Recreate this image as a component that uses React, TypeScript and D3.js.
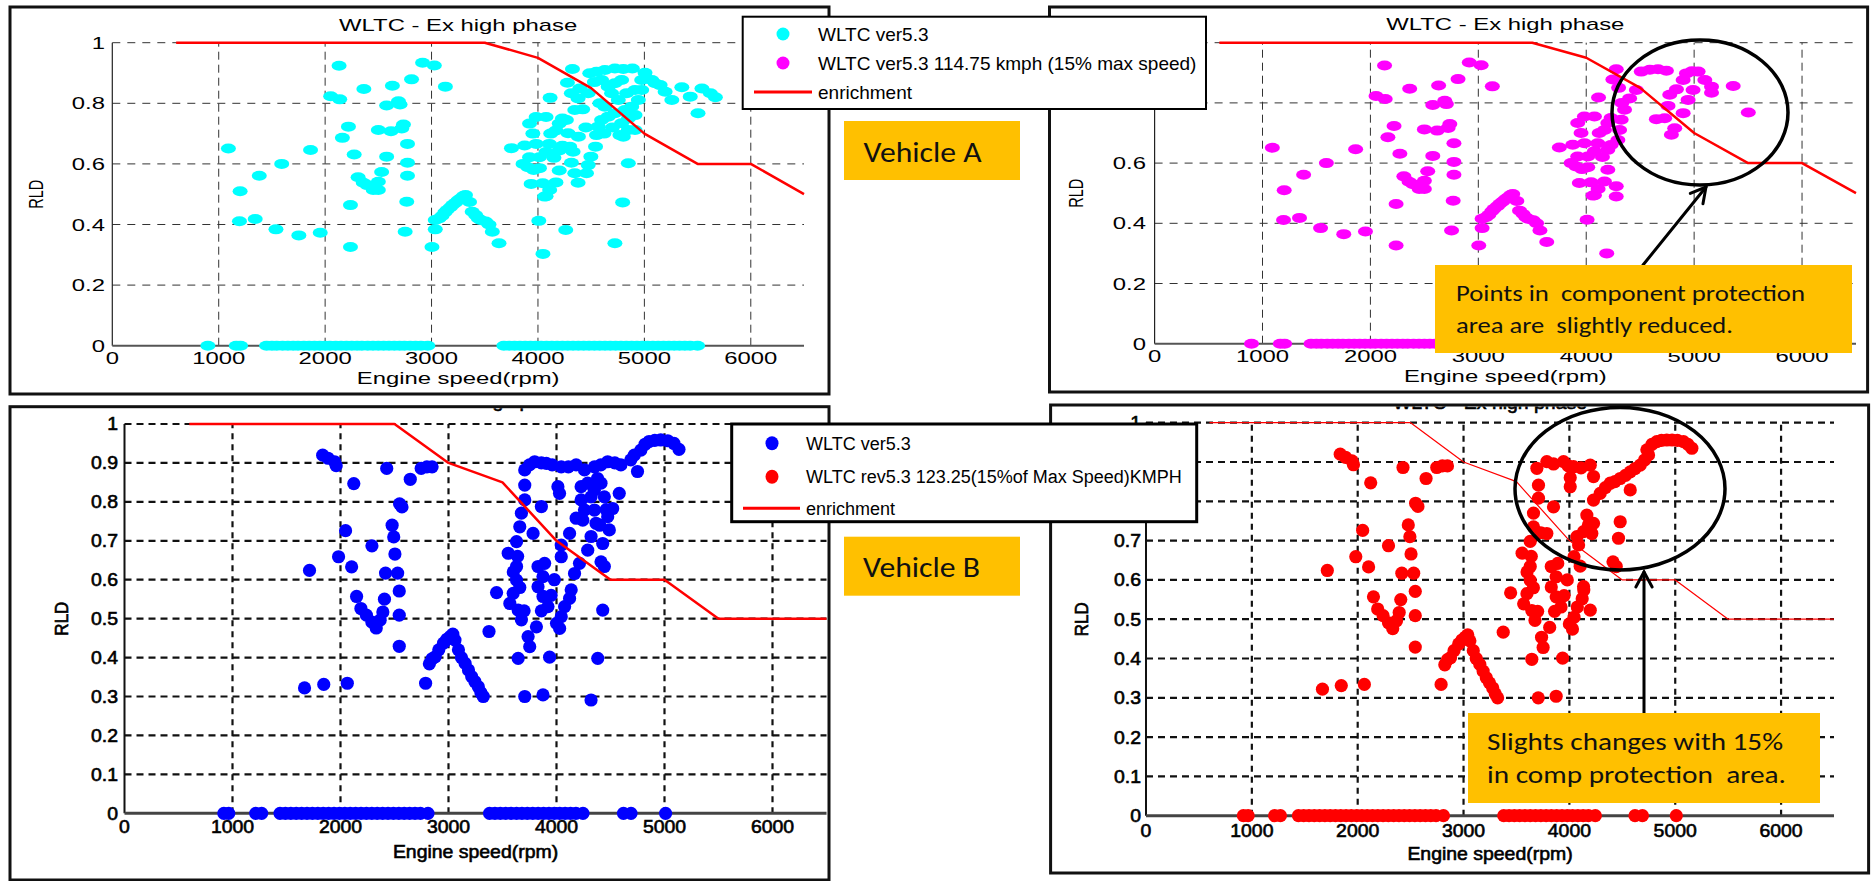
import React from 'react';
import * as d3 from 'd3';

type Pt = [number, number];

// ---- axis ticks / labels ----
const rpmTicks = [0, 1000, 2000, 3000, 4000, 5000, 6000];
const rldTicksA = [0, 0.2, 0.4, 0.6, 0.8, 1];
const rldTicksB = [0, 0.1, 0.2, 0.3, 0.4, 0.5, 0.6, 0.7, 0.8, 0.9, 1];
const titleText = 'WLTC - Ex high phase';
const xAxisLabel = 'Engine speed(rpm)';
const yAxisLabel = 'RLD';

const legendLabelsA = ['WLTC ver5.3', 'WLTC ver5.3 114.75 kmph (15% max speed)', 'enrichment'];
const legendLabelsB = ['WLTC ver5.3', 'WLTC rev5.3 123.25(15%of Max Speed)KMPH', 'enrichment'];
const noteA = ['Points in  component protection', 'area are  slightly reduced.'];
const noteB = ['Slights changes with 15%', 'in comp protection  area.'];

// ---- enrichment curves ----
const enrichRpmA = [600, 3500, 4000, 4500, 5000, 5500, 6000, 6500];
const enrichRldA = [1, 1, 0.95, 0.85, 0.7, 0.6, 0.6, 0.5];
const enrichRpmB = [600, 2500, 3000, 3500, 4000, 4500, 5000, 5500, 6500];
const enrichRldB = [1, 1, 0.9, 0.85, 0.7, 0.6, 0.6, 0.5, 0.5];

// ---- vehicle A : points shared by both runs ----
const vehicleACommon: Pt[] = [
  [1091, 0.651], [1201, 0.51], [1195, 0.411], [1343, 0.418], [1381, 0.561], [1538, 0.384], [1592, 0.6],
  [1753, 0.364], [1863, 0.646], [1954, 0.373], [2131, 0.924], [2052, 0.823], [2137, 0.813], [2364, 0.847],
  [2162, 0.686], [2219, 0.723], [2273, 0.631], [2310, 0.556], [2358, 0.538], [2395, 0.53], [2452, 0.514],
  [2500, 0.514], [2500, 0.541], [2531, 0.573], [2238, 0.464], [2238, 0.326], [2500, 0.712], [2578, 0.793],
  [2632, 0.858], [2619, 0.708], [2578, 0.624], [2689, 0.807], [2704, 0.796], [2736, 0.73], [2720, 0.717],
  [2774, 0.666], [2774, 0.604], [2774, 0.561], [2767, 0.475], [2752, 0.376], [2812, 0.879], [2916, 0.934],
  [3026, 0.925], [3130, 0.855], [3004, 0.326], [3035, 0.384],
  [3035, 0.415], [3070, 0.42], [3098, 0.428], [3125, 0.44], [3146, 0.448], [3177, 0.457], [3200, 0.465],
  [3225, 0.472], [3250, 0.48], [3272, 0.486], [3300, 0.494], [3319, 0.497], [3357, 0.474], [3382, 0.442],
  [3414, 0.431], [3440, 0.42], [3461, 0.415], [3508, 0.41], [3540, 0.4], [3571, 0.376], [3634, 0.338],
  [3751, 0.652], [3875, 0.661], [3921, 0.733], [3952, 0.7], [3983, 0.755], [3983, 0.666], [4076, 0.755],
  [4107, 0.666], [4169, 0.71], [4200, 0.733], [4200, 0.644], [4076, 0.639], [3921, 0.622], [4014, 0.622],
  [3906, 0.589], [4014, 0.586], [4200, 0.578], [3936, 0.534], [4045, 0.536], [4169, 0.539], [4076, 0.493],
  [4008, 0.412], [4114, 0.818], [3860, 0.6], [3960, 0.58], [4120, 0.7], [4230, 0.75], [4150, 0.62],
  [4230, 0.66], [4110, 0.514], [4063, 0.492],
];
// points of the original run only (top-left)
const vehicleAOriginalHigh: Pt[] = [
  [4277, 0.868], [4324, 0.913], [4314, 0.833], [4377, 0.816], [4346, 0.778], [4393, 0.849], [4283, 0.701],
  [4298, 0.657], [4330, 0.64], [4267, 0.745], [4314, 0.604], [4346, 0.569], [4377, 0.538], [4456, 0.569],
  [4472, 0.596], [4497, 0.624], [4541, 0.657], [4472, 0.833], [4487, 0.899], [4550, 0.904], [4629, 0.91],
  [4723, 0.915], [4802, 0.913], [4887, 0.915], [5006, 0.901], [5069, 0.877], [5148, 0.86], [5195, 0.838],
  [5258, 0.811], [5352, 0.853], [5431, 0.822], [5541, 0.849], [5620, 0.833], [5667, 0.82], [5504, 0.767],
  [4849, 0.602], [4796, 0.473], [4723, 0.338], [4598, 0.877], [4660, 0.855], [4723, 0.866], [4786, 0.877],
  [4692, 0.833], [4755, 0.811], [4833, 0.833], [4912, 0.844], [4975, 0.844], [4943, 0.811], [4881, 0.789],
  [4818, 0.778], [4723, 0.767], [4660, 0.756], [4598, 0.745], [4566, 0.723], [4550, 0.695], [4629, 0.789],
  [4582, 0.8], [4786, 0.734], [4849, 0.712], [4912, 0.712], [4912, 0.761], [4770, 0.695], [4802, 0.69],
  [5101, 0.866], [4975, 0.877], [4850, 0.75], [4700, 0.72], [4620, 0.7], [4530, 0.87], [4420, 0.78],
  [4450, 0.72], [4380, 0.69], [4261, 0.382], [4047, 0.303],
];
// points of the 15% max speed run only (top-right)
const vehicleAReducedHigh: Pt[] = [
  [4278, 0.912], [4247, 0.878], [4510, 0.904], [4590, 0.91], [4665, 0.912], [4743, 0.907], [4929, 0.898],
  [4980, 0.905], [5037, 0.904], [4898, 0.876], [5099, 0.876], [5161, 0.854], [5161, 0.834], [4990, 0.843],
  [4836, 0.845], [4774, 0.827], [4944, 0.81], [5362, 0.856], [5502, 0.768], [4464, 0.843], [4402, 0.815],
  [4355, 0.777], [4324, 0.744], [4309, 0.71], [4293, 0.677], [4758, 0.79], [4650, 0.746], [4727, 0.749],
  [4898, 0.766], [4820, 0.716], [4789, 0.694], [4278, 0.523], [4278, 0.489], [4330, 0.8], [4300, 0.85],
  [4190, 0.3],
];
const vehicleAZeroRpm = [
  898, 1165, 1205, 1450, 1500, 1545, 1600, 1650, 1700, 1745, 1800, 1850, 1900, 1950, 2000, 2045, 2100,
  2150, 2200, 2250, 2300, 2345, 2400, 2450, 2500, 2550, 2600, 2650, 2700, 2745, 2800, 2850, 2900, 2965,
  3680, 3730, 3780, 3830, 3880, 3930, 3980, 4030, 4080, 4130, 4180, 4230, 4280, 4330, 4380, 4430, 4480,
  4530, 4580, 4630, 4680, 4730, 4780, 4830, 4880, 4930, 4980, 5030, 5080, 5130, 5180, 5230, 5280, 5330,
  5380, 5430, 5500,
];

// ---- vehicle B ----
const vehicleBCommon: Pt[] = [
  [1835, 0.92], [1885, 0.912], [1946, 0.903], [1960, 0.893], [2123, 0.847], [2428, 0.886], [2646, 0.858],
  [2747, 0.886], [2800, 0.89], [2848, 0.89], [2569, 0.787], [2547, 0.795], [2047, 0.726], [2478, 0.74],
  [2493, 0.71], [2291, 0.687], [1982, 0.659], [1713, 0.624], [2103, 0.633], [2417, 0.617], [2529, 0.617],
  [2504, 0.666], [2544, 0.571], [2407, 0.55], [2149, 0.557], [2189, 0.526], [2240, 0.509], [2291, 0.491],
  [2331, 0.476], [2367, 0.496], [2392, 0.517], [2544, 0.509], [2544, 0.429], [1667, 0.322], [1845, 0.331],
  [2063, 0.334], [2788, 0.334],
  [2823, 0.384], [2848, 0.397], [2877, 0.402], [2910, 0.42], [2954, 0.437], [2985, 0.447], [3015, 0.454],
  [3040, 0.46], [3060, 0.445], [3092, 0.42], [3120, 0.4], [3154, 0.385], [3185, 0.368], [3215, 0.351],
  [3245, 0.338], [3276, 0.325], [3300, 0.31], [3322, 0.3],
  [3553, 0.668], [3630, 0.698], [3630, 0.634], [3630, 0.599], [3599, 0.565], [3568, 0.539], [3645, 0.522],
  [3675, 0.497], [3737, 0.454], [3752, 0.428], [3814, 0.479], [3445, 0.567], [3375, 0.467], [3645, 0.398],
  [3706, 0.3], [3875, 0.304], [3936, 0.401], [3829, 0.634], [3875, 0.608], [3829, 0.582], [3875, 0.557],
  [3921, 0.531], [4000, 0.488], [4029, 0.475], [4044, 0.505], [4075, 0.531], [4121, 0.552], [4136, 0.574],
  [3890, 0.642], [4044, 0.659], [3600, 0.62], [3640, 0.66], [3660, 0.58], [3700, 0.52], [3950, 0.56],
  [3980, 0.6], [3860, 0.52], [4412, 0.646], [4443, 0.634],
];
const vehicleBOriginalHigh: Pt[] = [
  [3798, 0.903], [3706, 0.882], [3750, 0.895], [3860, 0.9], [3906, 0.899], [3960, 0.895], [4044, 0.89],
  [4110, 0.89], [4182, 0.895], [4259, 0.882], [4351, 0.89], [4410, 0.895], [4474, 0.903], [4540, 0.9],
  [4596, 0.895], [4750, 0.878], [4688, 0.908], [4720, 0.92], [4781, 0.933], [4820, 0.948], [4857, 0.955],
  [4910, 0.958], [4965, 0.959], [5030, 0.957], [5088, 0.95], [5134, 0.935], [3706, 0.843], [4013, 0.839],
  [4028, 0.822], [4228, 0.839], [4581, 0.822], [4520, 0.783], [3706, 0.805], [3860, 0.788], [3675, 0.771],
  [3660, 0.736], [3783, 0.719], [4182, 0.758], [4121, 0.719], [4044, 0.689], [4289, 0.848], [4320, 0.813],
  [4351, 0.779], [4366, 0.745], [4320, 0.711], [4289, 0.676], [4412, 0.848], [4443, 0.813], [4474, 0.762],
  [4489, 0.728], [4428, 0.693], [4228, 0.805], [4259, 0.779], [4243, 0.753], [4380, 0.86], [4350, 0.83],
  [4460, 0.78], [4400, 0.74], [4428, 0.522], [4382, 0.398], [4320, 0.291], [4213, 0.642], [4167, 0.616],
];
const vehicleBReducedHigh: Pt[] = [
  [3693, 0.884], [3787, 0.901], [3850, 0.895], [3945, 0.901], [3990, 0.89], [4039, 0.888], [4110, 0.885],
  [4197, 0.892], [4228, 0.863], [3708, 0.841], [4008, 0.837], [4008, 0.86], [3708, 0.808], [3850, 0.786],
  [3661, 0.77], [3661, 0.735], [3730, 0.72], [3787, 0.718], [4071, 0.71], [4087, 0.689], [4228, 0.803],
  [4291, 0.82], [4340, 0.835], [4386, 0.846], [4430, 0.85], [4480, 0.858], [4530, 0.866], [4575, 0.875],
  [4620, 0.883], [4669, 0.892], [4710, 0.905], [4748, 0.918], [4732, 0.931], [4780, 0.945], [4826, 0.952],
  [4870, 0.955], [4920, 0.956], [4970, 0.956], [5020, 0.955], [5078, 0.952], [5120, 0.945], [5157, 0.935],
  [4575, 0.829], [4165, 0.765], [4228, 0.744], [4212, 0.718], [4134, 0.723], [4180, 0.74], [4480, 0.748],
  [4464, 0.706], [4197, 0.523], [4102, 0.635], [4134, 0.583],
];
const vehicleBZeroRpm = [
  920, 965, 1215, 1270, 1440, 1490, 1540, 1590, 1640, 1690, 1740, 1790, 1840, 1890, 1940, 1990, 2040,
  2090, 2140, 2190, 2240, 2290, 2340, 2390, 2440, 2490, 2540, 2590, 2640, 2690, 2740, 2810, 3380, 3430,
  3480, 3530, 3580, 3630, 3680, 3730, 3780, 3830, 3880, 3930, 3980, 4030, 4080, 4130, 4180, 4245, 4620,
  4690, 5010,
];

// ---- layout ----
const panelFont = "'Liberation Sans', Arial, Helvetica, sans-serif";
const noteFont = "Carlito, Calibri, Lato, 'Open Sans', sans-serif";
const orange = '#FFC000';

type Layout = {
  frame: [number, number, number, number];
  l: number; r: number; t: number; b: number;
  yLabelRight: number; xTickBase: number; xLabelBase: number; titleBase: number; rldX: number;
};

const layoutTL: Layout = { frame: [10, 7, 829, 394], l: 112.3, r: 804, t: 42.7, b: 345.7, yLabelRight: 105, xTickBase: 364, xLabelBase: 384, titleBase: 31, rldX: 43 };
const layoutTR: Layout = { frame: [1049.5, 7, 1867.6, 392], l: 1154.6, r: 1856, t: 42.7, b: 343.7, yLabelRight: 1146, xTickBase: 362, xLabelBase: 382, titleBase: 30, rldX: 1083.4 };
const layoutBL: Layout = { frame: [10, 406.7, 829, 880], l: 124.5, r: 826.5, t: 424, b: 813.3, yLabelRight: 118, xTickBase: 833, xLabelBase: 858, titleBase: 407, rldX: 68.2 };
const layoutBR: Layout = { frame: [1050.6, 405, 1868.6, 873], l: 1146, r: 1834, t: 422.7, b: 815.7, yLabelRight: 1141, xTickBase: 836.5, xLabelBase: 859.5, titleBase: 409, rldX: 1087.5 };

const styleA = { size: 16.8, sx: 1.42, weight: 0, rldSize: 14.5, markR: 0, gridColor: '#333', gridW: 1, dashH: '8,7', dashV: '8,5', leftW: 1.2, leftC: '#222', botW: 2, botC: '#555' };
const styleB = { size: 18, sx: 1.08, weight: 0.6, rldSize: 17, markR: 6.6, gridColor: '#111', gridW: 2.2, dashH: '7,5', dashV: '6,5', leftW: 2, leftC: '#111', botW: 3, botC: '#444' };

function SText({ x, y, sx, size, anchor = 'middle', rot = false, weight = 0, children }: any) {
  return (
    <text
      transform={`translate(${x},${y}) scale(${sx},1)${rot ? ' rotate(-90)' : ''}`}
      textAnchor={anchor}
      fontSize={size}
      fontFamily={panelFont}
      fill="#000"
      stroke={weight ? '#000' : 'none'}
      strokeWidth={weight}
    >
      {children}
    </text>
  );
}

const fmt = (t: number) => (t === 0 ? '0' : t === 1 ? '1' : String(+t.toFixed(1)));

function Panel({ id, lay, kind, yTicks, points, zeros, color, enrichRpm, enrichRld, lineW }: any) {
  const st = kind === 'A' ? styleA : styleB;
  const x = d3.scaleLinear().domain([0, 6500]).range([lay.l, lay.r]);
  const y = d3.scaleLinear().domain([0, 1]).range([lay.b, lay.t]);
  const enrich = d3.line<Pt>().x(d => x(d[0])).y(d => y(d[1]))(d3.zip(enrichRpm, enrichRld) as Pt[]);
  const [fx0, fy0, fx1, fy1] = lay.frame;
  const all: Pt[] = [...zeros.map((r: number) => [r, 0] as Pt), ...points];
  const cap = st.size * 0.716;
  const midX = (lay.l + lay.r) / 2;
  const midY = (lay.t + lay.b) / 2;

  return (
    <g>
      <defs>
        <clipPath id={id}>
          <rect x={fx0 + 1.5} y={fy0 + 1.5} width={fx1 - fx0 - 3} height={fy1 - fy0 - 3} />
        </clipPath>
      </defs>
      <rect x={fx0} y={fy0} width={fx1 - fx0} height={fy1 - fy0} fill="#fff" />
      {yTicks.filter((t: number) => t > 0).map((t: number) => (
        <line key={'h' + t} x1={x(0)} x2={x(6500)} y1={y(t)} y2={y(t)} stroke={st.gridColor} strokeWidth={st.gridW} strokeDasharray={st.dashH} />
      ))}
      {rpmTicks.filter(t => t > 0).map(t => (
        <line key={'v' + t} x1={x(t)} x2={x(t)} y1={y(0)} y2={y(1)} stroke={st.gridColor} strokeWidth={st.gridW} strokeDasharray={st.dashV} />
      ))}
      <line x1={x(0)} x2={x(0)} y1={y(0)} y2={y(1)} stroke={st.leftC} strokeWidth={st.leftW} />
      <line x1={x(0)} x2={x(6500)} y1={y(0)} y2={y(0)} stroke={st.botC} strokeWidth={st.botW} />
      <g fill={color}>
        {all.map((d, i) =>
          kind === 'A'
            ? <ellipse key={i} cx={x(d[0])} cy={y(d[1])} rx={7.5} ry={5} />
            : <circle key={i} cx={x(d[0])} cy={y(d[1])} r={st.markR} />
        )}
      </g>
      <path d={enrich || ''} fill="none" stroke="#FF0000" strokeWidth={lineW} strokeLinejoin="round" />
      {yTicks.map((t: number) => (
        <SText key={'yl' + t} x={lay.yLabelRight} y={y(t) + cap / 2} sx={st.sx} size={st.size} anchor="end" weight={st.weight}>{fmt(t)}</SText>
      ))}
      {rpmTicks.map(t => (
        <SText key={'xl' + t} x={x(t)} y={lay.xTickBase} sx={st.sx} size={st.size} weight={st.weight}>{t}</SText>
      ))}
      <SText x={midX} y={lay.xLabelBase} sx={st.sx} size={st.size} weight={st.weight}>{xAxisLabel}</SText>
      <SText x={lay.rldX} y={midY} sx={st.sx} size={st.rldSize} rot weight={st.weight}>{yAxisLabel}</SText>
      <g clipPath={`url(#${id})`}>
        <SText x={midX} y={lay.titleBase} sx={st.sx} size={st.size} weight={st.weight}>{titleText}</SText>
      </g>
      <rect x={fx0} y={fy0} width={fx1 - fx0} height={fy1 - fy0} fill="none" stroke="#111" strokeWidth={3} />
    </g>
  );
}

function Legend({ box, rows, markerX, textX, lineX, labels, colors, size, boxW, markerRy }: any) {
  return (
    <g>
      <rect x={box[0]} y={box[1]} width={box[2]} height={box[3]} fill="#fff" stroke="#000" strokeWidth={boxW} />
      <ellipse cx={markerX} cy={rows[0]} rx={6.5} ry={markerRy} fill={colors[0]} />
      <ellipse cx={markerX} cy={rows[1]} rx={6.5} ry={markerRy} fill={colors[1]} />
      <line x1={lineX[0]} x2={lineX[1]} y1={rows[2]} y2={rows[2]} stroke="#FF0000" strokeWidth={3} />
      {labels.map((s: string, i: number) => (
        <text key={i} x={textX} y={rows[i] + size * 0.36} fontSize={size} fontFamily={panelFont} fill="#000">{s}</text>
      ))}
    </g>
  );
}

function Arrow({ x1, y1, x2, y2 }: any) {
  const a = Math.atan2(y2 - y1, x2 - x1);
  const len = 17, spread = 0.5;
  const p1 = [x2 - len * Math.cos(a - spread), y2 - len * Math.sin(a - spread)];
  const p2 = [x2 - len * Math.cos(a + spread), y2 - len * Math.sin(a + spread)];
  return (
    <g stroke="#000" strokeWidth={3} fill="none" strokeLinecap="round">
      <line x1={x1} y1={y1} x2={x2} y2={y2} />
      <polyline points={`${p1[0]},${p1[1]} ${x2},${y2} ${p2[0]},${p2[1]}`} />
    </g>
  );
}

function NoteBox({ rect, lines, textX, bases, lengths, size }: any) {
  return (
    <g>
      <rect x={rect[0]} y={rect[1]} width={rect[2]} height={rect[3]} fill={orange} />
      {lines.map((s: string, i: number) => (
        <text key={i} x={textX} y={bases[i]} fontSize={size} fontFamily={noteFont} fill="#111"
          textLength={lengths[i]} lengthAdjust="spacingAndGlyphs" style={{ whiteSpace: 'pre' }}>{s}</text>
      ))}
    </g>
  );
}

export default function App() {
  return (
    <svg width={1872} height={881} style={{ position: 'absolute', left: 0, top: 0, background: '#fff' }}>
      <rect width={1872} height={881} fill="#fff" />
      <Panel id="clipTL" lay={layoutTL} kind="A" yTicks={rldTicksA} points={[...vehicleACommon, ...vehicleAOriginalHigh]}
        zeros={vehicleAZeroRpm} color="#00FFFF" enrichRpm={enrichRpmA} enrichRld={enrichRldA} lineW={2.5} />
      <Panel id="clipTR" lay={layoutTR} kind="A" yTicks={rldTicksA} points={[...vehicleACommon, ...vehicleAReducedHigh]}
        zeros={vehicleAZeroRpm} color="#FF00FF" enrichRpm={enrichRpmA} enrichRld={enrichRldA} lineW={2.5} />
      <Panel id="clipBL" lay={layoutBL} kind="B" yTicks={rldTicksB} points={[...vehicleBCommon, ...vehicleBOriginalHigh]}
        zeros={vehicleBZeroRpm} color="#0000FF" enrichRpm={enrichRpmB} enrichRld={enrichRldB} lineW={2.5} />
      <Panel id="clipBR" lay={layoutBR} kind="B" yTicks={rldTicksB} points={[...vehicleBCommon, ...vehicleBReducedHigh]}
        zeros={vehicleBZeroRpm} color="#FF0000" enrichRpm={enrichRpmB} enrichRld={enrichRldB} lineW={1.2} />

      {/* vehicle A overlays */}
      <Legend box={[742.7, 16.7, 463.3, 92.3]} rows={[34, 63, 92]} markerX={783} textX={818} lineX={[754, 812]}
        labels={legendLabelsA} colors={['#00FFFF', '#FF00FF']} size={19} boxW={2} markerRy={6.5} />
      <rect x={844} y={121} width={176} height={59} fill={orange} />
      <text x={863.5} y={162} fontSize={28} fontFamily={noteFont} fill="#111" textLength={118} lengthAdjust="spacingAndGlyphs">Vehicle A</text>
      <ellipse cx={1700} cy={112.5} rx={88} ry={72.5} fill="none" stroke="#000" strokeWidth={3.5} />
      <Arrow x1={1643} y1={265} x2={1706} y2={187} />
      <NoteBox rect={[1435, 265, 417, 88]} lines={noteA} textX={1456} bases={[301, 333]} lengths={[349, 277]} size={23} />

      {/* vehicle B overlays */}
      <Legend box={[731.7, 424, 465, 97.7]} rows={[443.3, 476.7, 508.3]} markerX={772} textX={806} lineX={[743, 800]}
        labels={legendLabelsB} colors={['#0000FF', '#FF0000']} size={18} boxW={3} markerRy={7} />
      <rect x={844} y={536.7} width={176} height={59} fill={orange} />
      <text x={863} y={577} fontSize={28} fontFamily={noteFont} fill="#111" textLength={117} lengthAdjust="spacingAndGlyphs">Vehicle B</text>
      <ellipse cx={1620} cy={488.7} rx={105} ry={81.3} fill="none" stroke="#000" strokeWidth={3.5} />
      <Arrow x1={1644} y1={713} x2={1644} y2={572} />
      <NoteBox rect={[1468, 713, 352, 90]} lines={noteB} textX={1487} bases={[750, 783]} lengths={[296, 299]} size={24} />
    </svg>
  );
}
